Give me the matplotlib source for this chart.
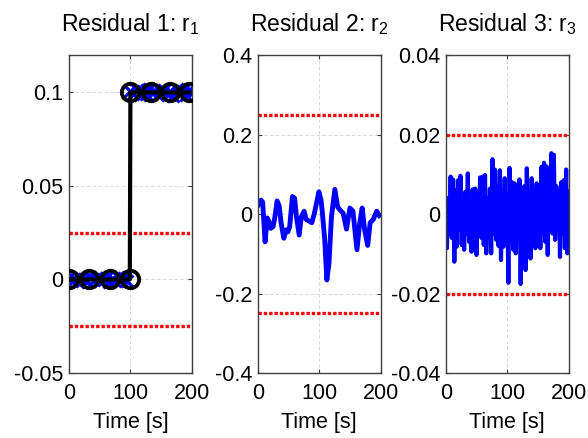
import numpy as np
import matplotlib
matplotlib.use("Agg")
import matplotlib.pyplot as plt

plt.rcParams['font.family'] = ['Liberation Sans', 'DejaVu Sans']
plt.rcParams['mathtext.default'] = 'regular'
plt.rcParams['axes.unicode_minus'] = False

# residual 1: measured samples (blue x) and detection output (black circles)
t1 = [0, 5, 10, 15, 20, 25, 30, 35, 40, 45, 50, 55, 60, 65, 70, 75, 80, 85, 90, 95,
      100, 105, 110, 115, 120, 125, 130, 135, 140, 145, 150, 155, 160, 165, 170, 175,
      180, 185, 190, 195, 200]
r1 = [0.001, -0.001, 0.0005, -0.0015, 0.001, 0.0, -0.001, 0.0015, -0.0005, 0.001,
      -0.001, 0.0005, 0.001, -0.0015, 0.0005, -0.001, 0.0015, -0.0005, 0.001, -0.001,
      0.101, 0.099, 0.1015, 0.0985, 0.1005, 0.099, 0.102, 0.0995, 0.101, 0.0985,
      0.1, 0.1015, 0.099, 0.1005, 0.098, 0.102, 0.0995, 0.101, 0.0985, 0.1015, 0.0995]
t1_det = [0, 33, 66, 99, 100, 133, 164, 196]
r1_det = [0, 0, 0, 0, 0.1, 0.1, 0.1, 0.1]

# residual 2
t2 = [1, 5.5, 8, 12, 15.5, 18, 21, 25, 28, 31.5, 35, 38, 42.5, 46, 49, 52, 56.5, 60,
      63, 67.5, 71, 75.5, 79, 84, 88, 92, 99.5, 103, 105, 109, 112.5, 116, 120, 125.5,
      130, 134, 139, 144.5, 150, 155, 161.5, 166, 170, 174, 179, 183, 188, 193.5, 198]
r2 = [0.023, 0.035, 0.030, -0.070, -0.010, -0.018, -0.036, -0.032, -0.007, 0.033,
      0.020, -0.022, -0.061, -0.040, -0.045, -0.032, 0.044, 0.040, -0.007, -0.053,
      -0.007, 0.007, -0.014, -0.018, -0.022, 0.0, 0.056, 0.035, 0.007, -0.064, -0.166,
      -0.124, -0.007, 0.062, 0.018, 0.010, 0.002, -0.038, 0.015, 0.007, -0.090,
      -0.022, 0.015, -0.040, -0.079, -0.022, -0.014, 0.007, -0.004]

# residual 3
t3 = list(range(0, 201, 2))
r3 = [0.004, -0.0086, 0.004, -0.005, 0.0094, -0.006, 0.0087, -0.012, 0.006, -0.0082,
      0.0085, -0.004, 0.0096, -0.0078, 0.003, -0.009, 0.0056, -0.005, 0.0102, -0.007,
      0.004, -0.0095, 0.0062, -0.006, 0.0064, -0.0103, 0.005, -0.004, 0.0092, -0.006,
      0.0094, -0.0078, 0.0098, -0.0099, 0.004, -0.006, 0.0064, -0.0099, 0.0138, -0.005,
      0.0112, -0.0065, 0.007, -0.008, 0.011, -0.0116, 0.006, -0.0082, 0.009, -0.006,
      0.005, -0.0173, 0.0116, -0.007, 0.008, -0.009, 0.0077, -0.0099, 0.005, -0.006,
      0.0087, -0.0176, 0.006, -0.0116, 0.007, -0.0141, 0.0115, -0.006, 0.004, -0.0112,
      0.009, -0.005, 0.006, -0.0086, 0.0077, -0.004, 0.005, -0.0086, 0.0119, -0.005,
      0.0129, -0.007, 0.012, -0.0103, 0.006, -0.004, 0.0153, -0.0049, 0.0149, -0.0065,
      0.007, -0.004, 0.006, -0.0108, 0.008, -0.005, 0.0085, -0.0086, 0.0112, -0.0099,
      0.0056]

titles = ['Residual 1: r$_1$', 'Residual 2: r$_2$', 'Residual 3: r$_3$']
thresholds = [0.025, 0.25, 0.02]
ylims = [(-0.05, 0.12), (-0.4, 0.4), (-0.04, 0.04)]
yticks = [[-0.05, 0, 0.05, 0.1], [-0.4, -0.2, 0, 0.2, 0.4], [-0.04, -0.02, 0, 0.02, 0.04]]
yticklabels = [['-0.05', '0', '0.05', '0.1'],
               ['-0.4', '-0.2', '0', '0.2', '0.4'],
               ['-0.04', '-0.02', '0', '0.02', '0.04']]

fig = plt.figure(figsize=(5.88, 4.38), dpi=100)
lefts = [0.1173, 0.4383, 0.758]
axs = [fig.add_axes([l, 0.1484, 0.209, 0.726]) for l in lefts]

blue = (0, 0, 1)

# panel 1
ax = axs[0]
ax.plot(t1, r1, 'x', color=blue, ms=9, mew=2.2, zorder=2)
ax.plot(t1_det, r1_det, '-o', color='black', lw=3, ms=12.5, mew=2.8,
        mfc='none', zorder=3)

# panel 2
axs[1].plot(t2, r2, color=blue, lw=3.5, zorder=2)

# panel 3
axs[2].plot(t3, r3, color=blue, lw=3, zorder=2)

for i, ax in enumerate(axs):
    th = thresholds[i]
    ax.axhline(th, color='red', ls=(0, (1, 0.6)), lw=2.4, zorder=1)
    ax.axhline(-th, color='red', ls=(0, (1, 0.6)), lw=2.4, zorder=1)
    ax.set_xlim(0, 200)
    ax.set_ylim(*ylims[i])
    ax.set_xticks([0, 100, 200])
    ax.set_yticks(yticks[i])
    ax.set_yticklabels(yticklabels[i])
    ax.grid(True, color='#d0d0d0', ls=(0, (4, 3)), lw=0.6)
    ax.set_axisbelow(True)
    ax.tick_params(direction='in', length=3, width=0.8, labelsize=15.5,
                   top=True, right=True, pad=4, colors='#404040', labelcolor='black')
    ax.tick_params(axis='x', pad=7)
    for sp in ax.spines.values():
        sp.set_color('#404040')
        sp.set_linewidth(1)
    ax.set_title(titles[i], fontsize=16.5, pad=17)
    ax.set_xlabel('Time [s]', fontsize=15.5, labelpad=6)

fig.savefig('out.png', dpi=100)
